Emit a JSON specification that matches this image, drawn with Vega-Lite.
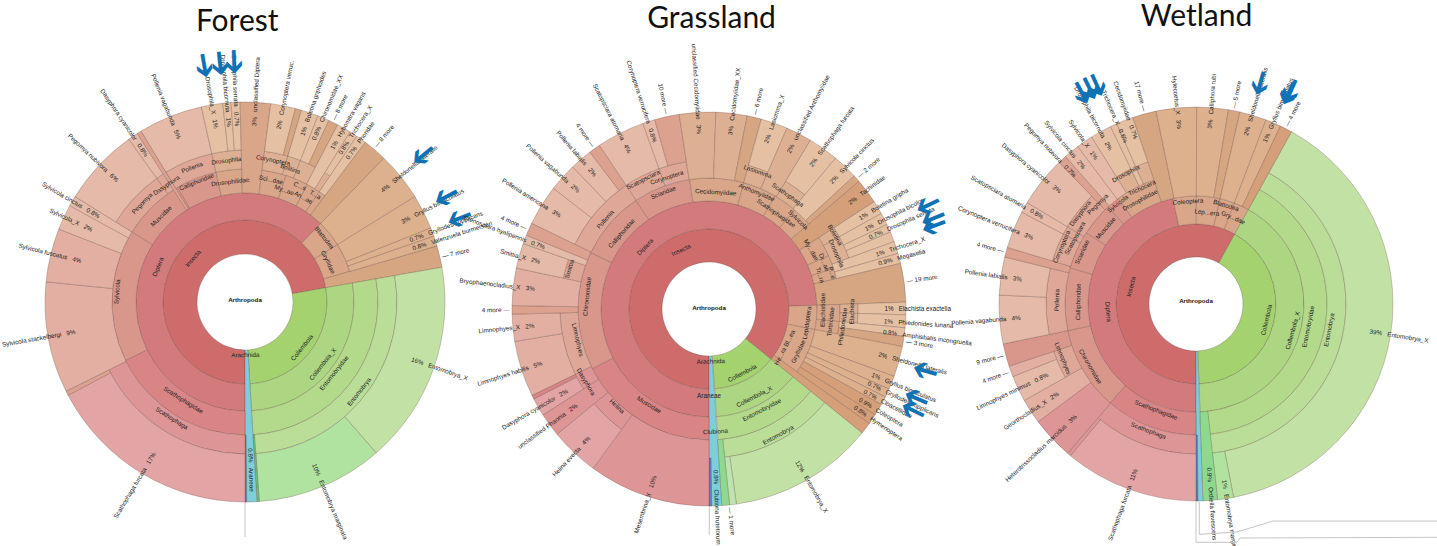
{"$schema":"https://vega.github.io/schema/vega-lite/v6.json","width":1437,"height":546,"padding":0,"autosize":{"type":"none"},"background":"white","config":{"view":{"stroke":null},"range":{"category":["#5B7FC4","#7CCFD9","#6CBF7A","#A3D26F","#ADD683","#B3DA8B","#BADD98","#C2E1A4","#B0E3A0","#8FD98F","#BFE3B0","#CE6C6C","#D27A7C","#D98485","#DE9596","#E2A4A5","#D9978C","#DEA797","#E3AFA3","#E5BAA8","#DDA190","#D9A68A","#DEB093","#E5C0A3","#DDB08E","#D6A682","#D59F7A"]}},
"resolve":{"scale":{"radius":"independent","x":"independent","y":"independent"}},
"datasets":{"all":[
{"site":1,"kind":"w","a0":180,"a1":440,"d0":0,"d1":1,"tone":"i1"},{"site":1,"kind":"w","a0":180,"a1":404,"d0":1,"d1":2,"tone":"i2"},{"site":1,"kind":"w","a0":44,"a1":58.2,"d0":1,"d1":2,"tone":"t1"},{"site":1,"kind":"w","a0":58.2,"a1":73.7,"d0":1,"d1":2,"tone":"t1"},{"site":1,"kind":"w","a0":73.7,"a1":80,"d0":1,"d1":5,"tone":"t5"},
{"site":1,"kind":"w","a0":80,"a1":176.6,"d0":0,"d1":1,"tone":"g1"},{"site":1,"kind":"w","a0":80,"a1":176.6,"d0":1,"d1":2,"tone":"g2"},{"site":1,"kind":"w","a0":80,"a1":176.6,"d0":2,"d1":3,"tone":"g3"},{"site":1,"kind":"w","a0":80,"a1":176.6,"d0":3,"d1":4,"tone":"g4"},{"site":1,"kind":"w","a0":80,"a1":139,"d0":4,"d1":5,"tone":"g5"},{"site":1,"kind":"w","a0":139,"a1":175.9,"d0":4,"d1":5,"tone":"g6"},{"site":1,"kind":"w","a0":175.9,"a1":176.6,"d0":3,"d1":5,"tone":"f1"},{"site":1,"kind":"w","a0":176.6,"a1":180,"d0":0,"d1":5,"tone":"c1"},{"site":1,"kind":"w","a0":179.5,"a1":180,"d0":3,"d1":5,"tone":"b1"},
{"site":1,"kind":"w","a0":180,"a1":244,"d0":2,"d1":3,"tone":"p1"},{"site":1,"kind":"w","a0":180,"a1":243.5,"d0":3,"d1":4,"tone":"p2"},{"site":1,"kind":"w","a0":180,"a1":242.2,"d0":4,"d1":5,"tone":"p3"},{"site":1,"kind":"w","a0":242.2,"a1":243.5,"d0":4,"d1":5,"tone":"s5"},
{"site":1,"kind":"w","a0":244,"a1":301.8,"d0":2,"d1":3,"tone":"s1"},{"site":1,"kind":"w","a0":243.5,"a1":275.8,"d0":3,"d1":5,"tone":"s3"},{"site":1,"kind":"w","a0":275.8,"a1":291.4,"d0":3,"d1":5,"tone":"s3"},{"site":1,"kind":"w","a0":291.4,"a1":298.8,"d0":3,"d1":5,"tone":"s4"},{"site":1,"kind":"w","a0":298.8,"a1":301.8,"d0":3,"d1":5,"tone":"s4"},
{"site":1,"kind":"w","a0":301.8,"a1":329.5,"d0":2,"d1":3,"tone":"s1"},{"site":1,"kind":"w","a0":301.8,"a1":324.5,"d0":3,"d1":4,"tone":"s2"},{"site":1,"kind":"w","a0":301.8,"a1":324.5,"d0":4,"d1":5,"tone":"s4"},{"site":1,"kind":"w","a0":324.5,"a1":328.5,"d0":3,"d1":4,"tone":"s2"},{"site":1,"kind":"w","a0":324.5,"a1":327.4,"d0":4,"d1":5,"tone":"s4"},{"site":1,"kind":"w","a0":327.4,"a1":328.7,"d0":2,"d1":5,"tone":"s5"},
{"site":1,"kind":"w","a0":329.5,"a1":347.4,"d0":2,"d1":3,"tone":"s1"},{"site":1,"kind":"w","a0":328.7,"a1":347.4,"d0":3,"d1":4,"tone":"s2"},{"site":1,"kind":"w","a0":328.7,"a1":347.4,"d0":4,"d1":5,"tone":"s4"},
{"site":1,"kind":"w","a0":347.4,"a1":358.6,"d0":2,"d1":3,"tone":"t1"},{"site":1,"kind":"w","a0":347.4,"a1":358.6,"d0":3,"d1":4,"tone":"t2"},{"site":1,"kind":"w","a0":347.4,"a1":353.6,"d0":4,"d1":5,"tone":"t3"},{"site":1,"kind":"w","a0":353.6,"a1":356,"d0":4,"d1":5,"tone":"t3"},{"site":1,"kind":"w","a0":356,"a1":358.6,"d0":4,"d1":5,"tone":"t3"},{"site":1,"kind":"w","a0":358.6,"a1":367.4,"d0":2,"d1":5,"tone":"t1"},
{"site":1,"kind":"w","a0":7.4,"a1":18,"d0":2,"d1":3,"tone":"t1"},{"site":1,"kind":"w","a0":7.4,"a1":16.4,"d0":3,"d1":4,"tone":"t2"},{"site":1,"kind":"w","a0":7.4,"a1":14.6,"d0":4,"d1":5,"tone":"t3"},{"site":1,"kind":"w","a0":14.6,"a1":16.4,"d0":4,"d1":5,"tone":"t5"},{"site":1,"kind":"w","a0":16.4,"a1":21.4,"d0":3,"d1":4,"tone":"t2"},{"site":1,"kind":"w","a0":16.4,"a1":21.4,"d0":4,"d1":5,"tone":"t3"},{"site":1,"kind":"w","a0":18,"a1":28,"d0":2,"d1":3,"tone":"t1"},{"site":1,"kind":"w","a0":28,"a1":34,"d0":2,"d1":3,"tone":"t1"},{"site":1,"kind":"w","a0":21.4,"a1":27.6,"d0":3,"d1":4,"tone":"t2"},{"site":1,"kind":"w","a0":21.4,"a1":24.8,"d0":4,"d1":5,"tone":"t3"},{"site":1,"kind":"w","a0":24.8,"a1":27.6,"d0":4,"d1":5,"tone":"t5"},{"site":1,"kind":"w","a0":27.6,"a1":31.7,"d0":3,"d1":5,"tone":"t3"},{"site":1,"kind":"w","a0":31.7,"a1":34,"d0":3,"d1":4,"tone":"t2"},{"site":1,"kind":"w","a0":31.7,"a1":34,"d0":4,"d1":5,"tone":"t3"},{"site":1,"kind":"w","a0":34,"a1":37,"d0":2,"d1":3,"tone":"t1"},{"site":1,"kind":"w","a0":34,"a1":37,"d0":3,"d1":5,"tone":"t3"},{"site":1,"kind":"w","a0":37,"a1":44,"d0":2,"d1":5,"tone":"t5"},
{"site":1,"kind":"w","a0":44,"a1":58.2,"d0":2,"d1":5,"tone":"t4"},{"site":1,"kind":"w","a0":58.2,"a1":68.3,"d0":2,"d1":5,"tone":"t4"},{"site":1,"kind":"w","a0":68.3,"a1":70.8,"d0":2,"d1":5,"tone":"t4"},{"site":1,"kind":"w","a0":70.8,"a1":73.7,"d0":2,"d1":5,"tone":"t4"},

{"site":2,"kind":"w","a0":180,"a1":489,"d0":0,"d1":1,"tone":"i1"},{"site":2,"kind":"w","a0":180,"a1":448,"d0":1,"d1":2,"tone":"i2"},{"site":2,"kind":"w","a0":88,"a1":101,"d0":1,"d1":2,"tone":"t1"},{"site":2,"kind":"w","a0":101,"a1":125.5,"d0":1,"d1":2,"tone":"t1"},{"site":2,"kind":"w","a0":125.5,"a1":129,"d0":1,"d1":5,"tone":"t6"},
{"site":2,"kind":"w","a0":129,"a1":176,"d0":0,"d1":1,"tone":"g1"},{"site":2,"kind":"w","a0":129,"a1":176,"d0":1,"d1":2,"tone":"g2"},{"site":2,"kind":"w","a0":129,"a1":176,"d0":2,"d1":3,"tone":"g3"},{"site":2,"kind":"w","a0":129,"a1":174,"d0":3,"d1":4,"tone":"g4"},{"site":2,"kind":"w","a0":129,"a1":172,"d0":4,"d1":5,"tone":"g5"},{"site":2,"kind":"w","a0":172,"a1":174,"d0":4,"d1":5,"tone":"g8"},{"site":2,"kind":"w","a0":174,"a1":176.3,"d0":3,"d1":5,"tone":"g7"},{"site":2,"kind":"w","a0":176.3,"a1":180,"d0":0,"d1":5,"tone":"c1"},{"site":2,"kind":"w","a0":179.2,"a1":180,"d0":4,"d1":5,"tone":"b1"},
{"site":2,"kind":"w","a0":180,"a1":243,"d0":2,"d1":3,"tone":"p1"},{"site":2,"kind":"w","a0":180,"a1":216,"d0":3,"d1":5,"tone":"p2"},{"site":2,"kind":"w","a0":216,"a1":230.5,"d0":3,"d1":4,"tone":"p2"},{"site":2,"kind":"w","a0":216,"a1":230.5,"d0":4,"d1":5,"tone":"p3"},{"site":2,"kind":"w","a0":230.5,"a1":237.5,"d0":3,"d1":5,"tone":"p2"},{"site":2,"kind":"w","a0":237.5,"a1":244,"d0":3,"d1":4,"tone":"p2"},{"site":2,"kind":"w","a0":237.5,"a1":242.8,"d0":4,"d1":5,"tone":"p3"},{"site":2,"kind":"w","a0":242.8,"a1":244,"d0":4,"d1":5,"tone":"p1"},
{"site":2,"kind":"w","a0":243,"a1":295.5,"d0":2,"d1":3,"tone":"s1"},{"site":2,"kind":"w","a0":244,"a1":268.5,"d0":3,"d1":4,"tone":"s2"},{"site":2,"kind":"w","a0":244,"a1":260.5,"d0":4,"d1":5,"tone":"s3"},{"site":2,"kind":"w","a0":260.5,"a1":268.5,"d0":4,"d1":5,"tone":"s3"},{"site":2,"kind":"w","a0":268.5,"a1":271,"d0":3,"d1":5,"tone":"s5"},{"site":2,"kind":"w","a0":271,"a1":282,"d0":3,"d1":5,"tone":"s3"},{"site":2,"kind":"w","a0":282,"a1":289.4,"d0":3,"d1":4,"tone":"s2"},{"site":2,"kind":"w","a0":282,"a1":289.4,"d0":4,"d1":5,"tone":"s4"},{"site":2,"kind":"w","a0":289.4,"a1":292,"d0":3,"d1":5,"tone":"s4"},{"site":2,"kind":"w","a0":292,"a1":295.8,"d0":3,"d1":5,"tone":"s5"},
{"site":2,"kind":"w","a0":295.5,"a1":326,"d0":2,"d1":3,"tone":"s1"},{"site":2,"kind":"w","a0":295.8,"a1":326.2,"d0":3,"d1":4,"tone":"s2"},{"site":2,"kind":"w","a0":295.8,"a1":307.8,"d0":4,"d1":5,"tone":"s4"},{"site":2,"kind":"w","a0":307.8,"a1":316.2,"d0":4,"d1":5,"tone":"s4"},{"site":2,"kind":"w","a0":316.2,"a1":322.8,"d0":4,"d1":5,"tone":"s4"},{"site":2,"kind":"w","a0":322.8,"a1":326.2,"d0":4,"d1":5,"tone":"s5"},
{"site":2,"kind":"w","a0":326,"a1":351.5,"d0":2,"d1":3,"tone":"s1"},{"site":2,"kind":"w","a0":326.2,"a1":340.4,"d0":3,"d1":4,"tone":"s2"},{"site":2,"kind":"w","a0":326.2,"a1":340.4,"d0":4,"d1":5,"tone":"s4"},{"site":2,"kind":"w","a0":340.4,"a1":351.3,"d0":3,"d1":4,"tone":"s2"},{"site":2,"kind":"w","a0":340.4,"a1":344,"d0":4,"d1":5,"tone":"s4"},{"site":2,"kind":"w","a0":344,"a1":351.3,"d0":4,"d1":5,"tone":"s5"},
{"site":2,"kind":"w","a0":351.5,"a1":375.5,"d0":2,"d1":3,"tone":"t1"},{"site":2,"kind":"w","a0":351.3,"a1":362,"d0":3,"d1":5,"tone":"t2"},{"site":2,"kind":"w","a0":2,"a1":11.2,"d0":3,"d1":5,"tone":"t2"},{"site":2,"kind":"w","a0":11.2,"a1":15.4,"d0":3,"d1":5,"tone":"t5"},
{"site":2,"kind":"w","a0":15.5,"a1":30.4,"d0":2,"d1":3,"tone":"t1"},{"site":2,"kind":"w","a0":15.4,"a1":23.3,"d0":3,"d1":4,"tone":"t2"},{"site":2,"kind":"w","a0":15.4,"a1":23.3,"d0":4,"d1":5,"tone":"t3"},{"site":2,"kind":"w","a0":23.3,"a1":31,"d0":3,"d1":5,"tone":"t2"},{"site":2,"kind":"w","a0":30.4,"a1":41,"d0":2,"d1":3,"tone":"t1"},{"site":2,"kind":"w","a0":31,"a1":40,"d0":3,"d1":4,"tone":"t2"},{"site":2,"kind":"w","a0":31,"a1":40,"d0":4,"d1":5,"tone":"t3"},{"site":2,"kind":"w","a0":41,"a1":49.6,"d0":2,"d1":3,"tone":"t1"},{"site":2,"kind":"w","a0":40,"a1":47.5,"d0":3,"d1":5,"tone":"t3"},{"site":2,"kind":"w","a0":47.5,"a1":49.6,"d0":3,"d1":5,"tone":"t5"},{"site":2,"kind":"w","a0":49.6,"a1":57,"d0":2,"d1":5,"tone":"t6"},
{"site":2,"kind":"w","a0":57,"a1":66,"d0":2,"d1":3,"tone":"t1"},{"site":2,"kind":"w","a0":66,"a1":72,"d0":2,"d1":3,"tone":"t1"},{"site":2,"kind":"w","a0":72,"a1":76.6,"d0":2,"d1":3,"tone":"t1"},{"site":2,"kind":"w","a0":57,"a1":61,"d0":3,"d1":4,"tone":"t2"},{"site":2,"kind":"w","a0":57,"a1":61,"d0":4,"d1":5,"tone":"t3"},{"site":2,"kind":"w","a0":61,"a1":70,"d0":3,"d1":4,"tone":"t2"},{"site":2,"kind":"w","a0":61,"a1":64.6,"d0":4,"d1":5,"tone":"t3"},{"site":2,"kind":"w","a0":64.6,"a1":67,"d0":4,"d1":5,"tone":"t3"},{"site":2,"kind":"w","a0":67,"a1":70,"d0":4,"d1":5,"tone":"t3"},{"site":2,"kind":"w","a0":70,"a1":73.6,"d0":3,"d1":5,"tone":"t3"},{"site":2,"kind":"w","a0":73.6,"a1":76.6,"d0":3,"d1":5,"tone":"t3"},{"site":2,"kind":"w","a0":76.6,"a1":88,"d0":2,"d1":5,"tone":"t5"},
{"site":2,"kind":"w","a0":88,"a1":95.5,"d0":2,"d1":3,"tone":"t1"},{"site":2,"kind":"w","a0":95.5,"a1":101,"d0":2,"d1":3,"tone":"t1"},{"site":2,"kind":"w","a0":88,"a1":91.7,"d0":3,"d1":4,"tone":"t2"},{"site":2,"kind":"w","a0":88,"a1":91.7,"d0":4,"d1":5,"tone":"t3"},{"site":2,"kind":"w","a0":91.7,"a1":95.5,"d0":3,"d1":4,"tone":"t2"},{"site":2,"kind":"w","a0":91.7,"a1":95.5,"d0":4,"d1":5,"tone":"t3"},{"site":2,"kind":"w","a0":95.5,"a1":98,"d0":3,"d1":5,"tone":"t3"},{"site":2,"kind":"w","a0":98,"a1":101,"d0":3,"d1":5,"tone":"t5"},
{"site":2,"kind":"w","a0":101,"a1":110,"d0":2,"d1":5,"tone":"t4"},{"site":2,"kind":"w","a0":110,"a1":114,"d0":2,"d1":5,"tone":"t4"},{"site":2,"kind":"w","a0":114,"a1":116.5,"d0":2,"d1":5,"tone":"t4"},{"site":2,"kind":"w","a0":116.5,"a1":119,"d0":2,"d1":5,"tone":"t4"},{"site":2,"kind":"w","a0":119,"a1":122.5,"d0":2,"d1":5,"tone":"t6"},{"site":2,"kind":"w","a0":122.5,"a1":125.5,"d0":2,"d1":5,"tone":"t6"},

{"site":3,"kind":"w","a0":180,"a1":389,"d0":0,"d1":1,"tone":"i1"},{"site":3,"kind":"w","a0":180,"a1":347.6,"d0":1,"d1":2,"tone":"i2"},{"site":3,"kind":"w","a0":347.6,"a1":360.2,"d0":1,"d1":2,"tone":"t1"},{"site":3,"kind":"w","a0":0.2,"a1":12.9,"d0":1,"d1":2,"tone":"t1"},{"site":3,"kind":"w","a0":12.9,"a1":20.8,"d0":1,"d1":2,"tone":"t1"},{"site":3,"kind":"w","a0":20.8,"a1":29,"d0":1,"d1":2,"tone":"t1"},
{"site":3,"kind":"w","a0":29,"a1":177.8,"d0":0,"d1":1,"tone":"g1"},{"site":3,"kind":"w","a0":29,"a1":177.8,"d0":1,"d1":2,"tone":"g2"},{"site":3,"kind":"w","a0":29,"a1":174,"d0":2,"d1":3,"tone":"g3"},{"site":3,"kind":"w","a0":29,"a1":174,"d0":3,"d1":4,"tone":"g4"},{"site":3,"kind":"w","a0":29,"a1":169,"d0":4,"d1":5,"tone":"g5"},{"site":3,"kind":"w","a0":169,"a1":173.7,"d0":4,"d1":5,"tone":"g6"},{"site":3,"kind":"w","a0":173.7,"a1":178,"d0":2,"d1":5,"tone":"g7"},{"site":3,"kind":"w","a0":178,"a1":180,"d0":0,"d1":5,"tone":"c1"},{"site":3,"kind":"w","a0":179.4,"a1":180,"d0":3,"d1":5,"tone":"b1"},
{"site":3,"kind":"w","a0":180,"a1":221,"d0":2,"d1":3,"tone":"p1"},{"site":3,"kind":"w","a0":180,"a1":220.7,"d0":3,"d1":4,"tone":"p2"},{"site":3,"kind":"w","a0":180,"a1":219.6,"d0":4,"d1":5,"tone":"p3"},{"site":3,"kind":"w","a0":219.6,"a1":220.7,"d0":4,"d1":5,"tone":"p2"},{"site":3,"kind":"w","a0":220.7,"a1":233.3,"d0":3,"d1":5,"tone":"p2"},{"site":3,"kind":"w","a0":221,"a1":258.3,"d0":2,"d1":3,"tone":"s1"},{"site":3,"kind":"w","a0":233.3,"a1":240.7,"d0":3,"d1":5,"tone":"s3"},{"site":3,"kind":"w","a0":240.7,"a1":251.6,"d0":3,"d1":4,"tone":"s2"},{"site":3,"kind":"w","a0":240.7,"a1":248.4,"d0":4,"d1":5,"tone":"s4"},{"site":3,"kind":"w","a0":248.4,"a1":251.6,"d0":4,"d1":5,"tone":"s3"},{"site":3,"kind":"w","a0":251.6,"a1":258.3,"d0":3,"d1":5,"tone":"s1"},
{"site":3,"kind":"w","a0":258.3,"a1":286,"d0":2,"d1":3,"tone":"s1"},{"site":3,"kind":"w","a0":258.3,"a1":283.8,"d0":3,"d1":4,"tone":"s2"},{"site":3,"kind":"w","a0":258.3,"a1":272.6,"d0":4,"d1":5,"tone":"s4"},{"site":3,"kind":"w","a0":272.6,"a1":283.8,"d0":4,"d1":5,"tone":"s4"},{"site":3,"kind":"w","a0":283.8,"a1":286.7,"d0":3,"d1":5,"tone":"s5"},{"site":3,"kind":"w","a0":286,"a1":303,"d0":2,"d1":3,"tone":"s1"},{"site":3,"kind":"w","a0":286.7,"a1":297.8,"d0":3,"d1":4,"tone":"s2"},{"site":3,"kind":"w","a0":286.7,"a1":297.8,"d0":4,"d1":5,"tone":"s4"},{"site":3,"kind":"w","a0":297.8,"a1":301,"d0":3,"d1":4,"tone":"s2"},{"site":3,"kind":"w","a0":297.8,"a1":301,"d0":4,"d1":5,"tone":"s4"},
{"site":3,"kind":"w","a0":303,"a1":317.8,"d0":2,"d1":3,"tone":"s1"},{"site":3,"kind":"w","a0":301,"a1":316,"d0":3,"d1":4,"tone":"s2"},{"site":3,"kind":"w","a0":301,"a1":316,"d0":4,"d1":5,"tone":"s4"},{"site":3,"kind":"w","a0":316,"a1":318.5,"d0":3,"d1":5,"tone":"s5"},{"site":3,"kind":"w","a0":317.8,"a1":323.6,"d0":2,"d1":3,"tone":"s1"},{"site":3,"kind":"w","a0":318.5,"a1":323.1,"d0":3,"d1":5,"tone":"s4"},{"site":3,"kind":"w","a0":323.1,"a1":328,"d0":3,"d1":5,"tone":"s4"},{"site":3,"kind":"w","a0":323.6,"a1":341.3,"d0":2,"d1":3,"tone":"t1"},{"site":3,"kind":"w","a0":328,"a1":334.3,"d0":3,"d1":4,"tone":"t2"},{"site":3,"kind":"w","a0":328,"a1":334.3,"d0":4,"d1":5,"tone":"t3"},{"site":3,"kind":"w","a0":334.3,"a1":336.3,"d0":3,"d1":5,"tone":"t3"},{"site":3,"kind":"w","a0":336.3,"a1":341.3,"d0":3,"d1":4,"tone":"t2"},{"site":3,"kind":"w","a0":336.3,"a1":341.3,"d0":4,"d1":5,"tone":"t3"},
{"site":3,"kind":"w","a0":341.3,"a1":348.3,"d0":2,"d1":5,"tone":"t5"},{"site":3,"kind":"w","a0":348.3,"a1":360.2,"d0":2,"d1":5,"tone":"t4"},{"site":3,"kind":"w","a0":0.2,"a1":9.5,"d0":2,"d1":5,"tone":"t4"},{"site":3,"kind":"w","a0":9.5,"a1":12.9,"d0":2,"d1":5,"tone":"t5"},{"site":3,"kind":"w","a0":12.9,"a1":20.8,"d0":2,"d1":5,"tone":"t4"},{"site":3,"kind":"w","a0":20.8,"a1":25.4,"d0":2,"d1":5,"tone":"t4"},{"site":3,"kind":"w","a0":25.4,"a1":29,"d0":2,"d1":5,"tone":"t6"},

{"site":1,"kind":"h","a0":358.4,"d0":6.6,"name":"Forest"},{"site":2,"kind":"h","a0":0.5,"d0":6.86,"name":"Grassland"},{"site":3,"kind":"h","a0":0.1,"d0":6.8,"name":"Wetland"},
{"site":1,"kind":"c","a0":0,"d0":-0.96,"name":"Arthropoda"},{"site":2,"kind":"c","a0":0,"d0":-0.98,"name":"Arthropoda"},{"site":3,"kind":"c","a0":0,"d0":-0.94,"name":"Arthropoda"},

{"site":1,"kind":"a","a0":350.2,"d0":5.8},{"site":1,"kind":"a","a0":354,"d0":5.8},{"site":1,"kind":"a","a0":357.4,"d0":5.81},{"site":1,"kind":"a","a0":50.5,"d0":5.62},{"site":1,"kind":"a","a0":62.4,"d0":5.55},{"site":1,"kind":"a","a0":68.7,"d0":5.61},
{"site":2,"kind":"a","a0":64.6,"d0":5.91},{"site":2,"kind":"a","a0":68,"d0":5.9},{"site":2,"kind":"a","a0":69.7,"d0":5.86},{"site":2,"kind":"a","a0":106,"d0":5.56},{"site":2,"kind":"a","a0":113.3,"d0":5.58},{"site":2,"kind":"a","a0":116.4,"d0":5.62},
{"site":3,"kind":"a","a0":331.6,"d0":5.87},{"site":3,"kind":"a","a0":333.7,"d0":5.87},{"site":3,"kind":"a","a0":335.6,"d0":5.87},{"site":3,"kind":"a","a0":16.2,"d0":5.66},{"site":3,"kind":"a","a0":23.7,"d0":5.66},{"site":3,"kind":"a","a0":24,"d0":5.73},

{"site":1,"kind":"r","a0":211,"d0":4.5,"name":"Scathophaga furcata\u00a0\u00a0\u00a017%"},{"site":1,"kind":"r","a0":260,"d0":4.42,"name":"Sylvicola stackelbergi\u00a0\u00a0\u00a09%"},{"site":1,"kind":"r","a0":284,"d0":4.35,"name":"Sylvicola fuscatus\u00a0\u00a0\u00a04%"},{"site":1,"kind":"r","a0":295.2,"d0":4.35,"name":"Sylvicola_X\u00a0\u00a0\u00a02%"},{"site":1,"kind":"r","a0":300.3,"d0":4.35,"name":"Sylvicola cinctus\u00a0\u00a0\u00a00.8%"},{"site":1,"kind":"r","a0":313.5,"d0":4.5,"name":"Pegomya nubivora\u00a0\u00a0\u00a06%"},{"site":1,"kind":"r","a0":326,"d0":4.5,"name":"Dasyphora cyanicolor\u00a0\u00a0\u00a00.8%"},{"site":1,"kind":"r","a0":338,"d0":4.5,"name":"Pollenia vagabunda\u00a0\u00a0\u00a05%"},{"site":1,"kind":"r","a0":350.5,"d0":4.5,"name":"Drosophila_X\u00a0\u00a0\u00a01%"},{"site":1,"kind":"r","a0":354.8,"d0":4.5,"name":"Drosophila bicornuta\u00a0\u00a0\u00a01%"},{"site":1,"kind":"r","a0":357.4,"d0":4.5,"name":"Drosophila serrata\u00a0\u00a0\u00a00.7%"},
{"site":1,"kind":"r","a0":3,"d0":4.5,"name":"3%\u00a0\u00a0\u00a0unclassified Diptera"},{"site":1,"kind":"r","a0":11,"d0":4.5,"name":"2%\u00a0\u00a0\u00a0Corynoptera verruc."},{"site":1,"kind":"r","a0":19,"d0":4.5,"name":"1%\u00a0\u00a0\u00a0Boletina griphoides"},{"site":1,"kind":"r","a0":23,"d0":4.5,"name":"0.8%\u00a0\u00a0\u00a0Chironomidae_XX"},{"site":1,"kind":"r","a0":29.6,"d0":4.5,"name":"1%\u00a0\u00a0\u00a0Hybomitra vagans"},{"site":1,"kind":"r","a0":32.7,"d0":4.5,"name":"0.8%\u00a0\u00a0\u00a0Trichocera_X"},{"site":1,"kind":"r","a0":35.5,"d0":4.5,"name":"0.7%\u00a0\u00a0\u00a0Phoridae"},{"site":1,"kind":"r","a0":51,"d0":4.5,"name":"4%\u00a0\u00a0\u00a0Sheldonella lateralis"},{"site":1,"kind":"r","a0":63,"d0":4.5,"name":"3%\u00a0\u00a0\u00a0Gryllus bimaculatus"},{"site":1,"kind":"r","a0":69.5,"d0":4.5,"name":"0.7%\u00a0\u00a0\u00a0Gryllodes supplicans"},{"site":1,"kind":"r","a0":72.3,"d0":4.5,"name":"0.8%\u00a0\u00a0\u00a0Valenzuela burmeisteri"},{"site":1,"kind":"r","a0":109,"d0":4.5,"name":"16%\u00a0\u00a0\u00a0Entomobrya_X"},{"site":1,"kind":"r","a0":157,"d0":4.5,"name":"10%\u00a0\u00a0\u00a0Entomobrya marginata"},{"site":1,"kind":"r","a0":178,"d0":3.7,"name":"0.8%\u00a0\u00a0\u00a0Araneae"},{"site":1,"kind":"r","a0":26,"d0":5.05,"name":"— 8 more"},{"site":1,"kind":"r","a0":40,"d0":5.05,"name":"— 8 more"},{"site":1,"kind":"r","a0":77,"d0":5.05,"name":"— 7 more"},

{"site":2,"kind":"r","a0":198,"d0":4.55,"name":"Mesembrina_X\u00a0\u00a0\u00a010%"},{"site":2,"kind":"r","a0":223,"d0":4.55,"name":"Helina evecta\u00a0\u00a0\u00a04%"},{"site":2,"kind":"r","a0":234,"d0":4.3,"name":"unclassified Phaonia\u00a0\u00a0\u00a02%"},{"site":2,"kind":"r","a0":240,"d0":4.3,"name":"Dasyphora cyanicolor\u00a0\u00a0\u00a02%"},{"site":2,"kind":"r","a0":252,"d0":4.55,"name":"Limnophyes habilis\u00a0\u00a0\u00a05%"},{"site":2,"kind":"r","a0":264.5,"d0":4.55,"name":"Limnophyes_X\u00a0\u00a0\u00a02%"},{"site":2,"kind":"r","a0":276.5,"d0":4.55,"name":"Bryophaenocladius_X\u00a0\u00a0\u00a03%"},{"site":2,"kind":"r","a0":285.5,"d0":4.55,"name":"Smittia_X\u00a0\u00a0\u00a02%"},{"site":2,"kind":"r","a0":290.5,"d0":4.55,"name":"Ctenosciara hyalipennis\u00a0\u00a0\u00a00.7%"},{"site":2,"kind":"r","a0":302,"d0":4.55,"name":"Pollenia americana\u00a0\u00a0\u00a03%"},{"site":2,"kind":"r","a0":312,"d0":4.55,"name":"Pollenia vagabunda\u00a0\u00a0\u00a02%"},{"site":2,"kind":"r","a0":319.5,"d0":4.55,"name":"Pollenia labialis\u00a0\u00a0\u00a02%"},{"site":2,"kind":"r","a0":333,"d0":4.55,"name":"Scatopsciara atomaria\u00a0\u00a0\u00a04%"},{"site":2,"kind":"r","a0":342,"d0":4.55,"name":"Corynoptera verrucifera\u00a0\u00a0\u00a00.8%"},{"site":2,"kind":"r","a0":356.7,"d0":4.55,"name":"unclassified Cecidomyiidae\u00a0\u00a0\u00a03%"},
{"site":2,"kind":"r","a0":7,"d0":4.55,"name":"3%\u00a0\u00a0\u00a0Cecidomyiidae_XX"},{"site":2,"kind":"r","a0":19,"d0":4.55,"name":"2%\u00a0\u00a0\u00a0Lasiomma_X"},{"site":2,"kind":"r","a0":27,"d0":4.55,"name":"2%\u00a0\u00a0\u00a0unclassified Anthomyiidae"},{"site":2,"kind":"r","a0":35.5,"d0":4.55,"name":"2%\u00a0\u00a0\u00a0Scathophaga furcata"},{"site":2,"kind":"r","a0":44,"d0":4.55,"name":"2%\u00a0\u00a0\u00a0Sylvicola cinctus"},{"site":2,"kind":"r","a0":53,"d0":4.55,"name":"2%\u00a0\u00a0\u00a0Tachinidae"},{"site":2,"kind":"r","a0":59,"d0":4.55,"name":"1%\u00a0\u00a0\u00a0Boletina gripha"},{"site":2,"kind":"r","a0":63,"d0":4.55,"name":"1%\u00a0\u00a0\u00a0Drosophila bicolor"},{"site":2,"kind":"r","a0":66,"d0":4.55,"name":"0.7%\u00a0\u00a0\u00a0Drosophila serrata"},{"site":2,"kind":"r","a0":72,"d0":4.55,"name":"1%\u00a0\u00a0\u00a0Trichocera_X"},{"site":2,"kind":"r","a0":75,"d0":4.55,"name":"0.9%\u00a0\u00a0\u00a0Megaselia"},{"site":2,"kind":"r","a0":90,"d0":4.55,"name":"1%\u00a0\u00a0\u00a0Elachista exactella"},{"site":2,"kind":"r","a0":94,"d0":4.55,"name":"1%\u00a0\u00a0\u00a0Phiedonides lunana"},{"site":2,"kind":"r","a0":97.5,"d0":4.55,"name":"0.8%\u00a0\u00a0\u00a0Amphisbatis incongruella"},{"site":2,"kind":"r","a0":105,"d0":4.55,"name":"2%\u00a0\u00a0\u00a0Sheldonella lateralis"},{"site":2,"kind":"r","a0":112,"d0":4.55,"name":"1%\u00a0\u00a0\u00a0Gryllus bimaculatus"},{"site":2,"kind":"r","a0":115,"d0":4.55,"name":"0.7%\u00a0\u00a0\u00a0Gryllodes supplicans"},{"site":2,"kind":"r","a0":118,"d0":4.55,"name":"0.7%\u00a0\u00a0\u00a0Cloacellidae"},{"site":2,"kind":"r","a0":121,"d0":4.55,"name":"0.9%\u00a0\u00a0\u00a0Coleoptera"},{"site":2,"kind":"r","a0":124,"d0":4.55,"name":"0.8%\u00a0\u00a0\u00a0Hymenoptera"},{"site":2,"kind":"r","a0":150,"d0":4.55,"name":"12%\u00a0\u00a0\u00a0Entomobrya_X"},{"site":2,"kind":"r","a0":177.7,"d0":4.25,"name":"0.8%\u00a0\u00a0\u00a0Clubiona frutetorum"},
{"site":2,"kind":"r","a0":82,"d0":5.05,"name":"— 19 more"},{"site":2,"kind":"r","a0":99.4,"d0":5.05,"name":"— 3 more"},{"site":2,"kind":"r","a0":48.5,"d0":5.05,"name":"— 2 more"},{"site":2,"kind":"r","a0":13.3,"d0":5.05,"name":"— 6 more"},{"site":2,"kind":"r","a0":174,"d0":5.05,"name":"— 1 more"},{"site":2,"kind":"r","a0":347.7,"d0":5.05,"name":"10 more —"},{"site":2,"kind":"r","a0":324.5,"d0":5.05,"name":"4 more —"},{"site":2,"kind":"r","a0":293.8,"d0":5.05,"name":"4 more —"},{"site":2,"kind":"r","a0":269.7,"d0":5.05,"name":"4 more —"},

{"site":3,"kind":"r","a0":200,"d0":4.55,"name":"Scathophaga furcata\u00a0\u00a0\u00a011%"},{"site":3,"kind":"r","a0":227,"d0":4.3,"name":"Heterotrissocladius marcidus\u00a0\u00a0\u00a03%"},{"site":3,"kind":"r","a0":237,"d0":4.3,"name":"Georthocladius_X\u00a0\u00a0\u00a02%"},{"site":3,"kind":"r","a0":244.5,"d0":4.3,"name":"Limnophyes minimus\u00a0\u00a0\u00a00.8%"},{"site":3,"kind":"r","a0":265.5,"d0":4.55,"name":"Pollenia vagabunda\u00a0\u00a0\u00a04%"},{"site":3,"kind":"r","a0":278,"d0":4.55,"name":"Pollenia labialis\u00a0\u00a0\u00a03%"},{"site":3,"kind":"r","a0":292,"d0":4.55,"name":"Corynoptera verrucifera\u00a0\u00a0\u00a03%"},{"site":3,"kind":"r","a0":299.5,"d0":4.55,"name":"Scatopsciara atomaria\u00a0\u00a0\u00a00.8%"},{"site":3,"kind":"r","a0":309.5,"d0":4.55,"name":"Dasyphora cyanicolor\u00a0\u00a0\u00a03%"},{"site":3,"kind":"r","a0":316.5,"d0":4.55,"name":"Pegomya nubivora\u00a0\u00a0\u00a00.7%"},{"site":3,"kind":"r","a0":320.5,"d0":4.55,"name":"Sylvicola cinctus\u00a0\u00a0\u00a02%"},{"site":3,"kind":"r","a0":325.5,"d0":4.55,"name":"Sylvicola_X\u00a0\u00a0\u00a01%"},{"site":3,"kind":"r","a0":331,"d0":4.55,"name":"Drosophila bicornuta\u00a0\u00a0\u00a02%"},{"site":3,"kind":"r","a0":336.5,"d0":4.55,"name":"Trichocera_X\u00a0\u00a0\u00a00.6%"},{"site":3,"kind":"r","a0":340,"d0":4.55,"name":"Cecidomyiidae\u00a0\u00a0\u00a00.7%"},{"site":3,"kind":"r","a0":354.5,"d0":4.55,"name":"Hylecoetus_X\u00a0\u00a0\u00a03%"},
{"site":3,"kind":"r","a0":4.5,"d0":4.55,"name":"3%\u00a0\u00a0\u00a0Calliphora rubi"},{"site":3,"kind":"r","a0":16.5,"d0":4.55,"name":"2%\u00a0\u00a0\u00a0Sheldonella lateralis"},{"site":3,"kind":"r","a0":23,"d0":4.55,"name":"1%\u00a0\u00a0\u00a0Gryllus bimaculatus"},{"site":3,"kind":"r","a0":99,"d0":4.55,"name":"39%\u00a0\u00a0\u00a0Entomobrya_X"},{"site":3,"kind":"r","a0":171,"d0":4.6,"name":"1%\u00a0\u00a0\u00a0Entomobrya marginata"},{"site":3,"kind":"r","a0":175.5,"d0":4.3,"name":"0.9%\u00a0\u00a0\u00a0Ordiella flavescens"},
{"site":3,"kind":"r","a0":11,"d0":5.05,"name":"— 5 more"},{"site":3,"kind":"r","a0":27,"d0":5.05,"name":"— 4 more"},{"site":3,"kind":"r","a0":285.3,"d0":5.05,"name":"4 more —"},{"site":3,"kind":"r","a0":255,"d0":5.05,"name":"9 more —"},{"site":3,"kind":"r","a0":250,"d0":5.05,"name":"4 more —"},{"site":3,"kind":"r","a0":345,"d0":5.05,"name":"17 more —"},

{"site":1,"kind":"t","a0":310,"d0":0.58,"name":"Insecta"},{"site":1,"kind":"t","a0":292,"d0":1.43,"name":"Diptera"},{"site":1,"kind":"t","a0":315.7,"d0":2.45,"name":"Muscidae"},{"site":1,"kind":"t","a0":313.8,"d0":3.5,"name":"Pegomya"},{"site":1,"kind":"t","a0":326,"d0":3.4,"name":"Dasyphora"},{"site":1,"kind":"t","a0":338.5,"d0":3.6,"name":"Pollenia"},{"site":1,"kind":"t","a0":338,"d0":2.85,"name":"Calliphoridae"},{"site":1,"kind":"t","a0":352.5,"d0":3.5,"name":"Drosophila"},{"site":1,"kind":"t","a0":353,"d0":2.5,"name":"Drosophilidae"},{"site":1,"kind":"t","a0":274.6,"d0":2.8,"name":"Sylvicola"},{"site":1,"kind":"t","a0":11.2,"d0":3.6,"name":"Corynoptera"},{"site":1,"kind":"t","a0":18.8,"d0":3.4,"name":"Bolitina"},{"site":1,"kind":"t","a0":12,"d0":2.66,"name":"Sci...dae"},{"site":1,"kind":"t","a0":19.3,"d0":2.4,"name":"My...ae"},{"site":1,"kind":"t","a0":29.2,"d0":2.44,"name":"An...ae"},{"site":1,"kind":"t","a0":25.3,"d0":2.8,"name":"C...s"},{"site":1,"kind":"t","a0":33.2,"d0":2.8,"name":"T...a"},{"site":1,"kind":"t","a0":51,"d0":1.74,"name":"Blattodea"},{"site":1,"kind":"t","a0":64.4,"d0":1.37,"name":"Gryllidae"},{"site":1,"kind":"t","a0":128.7,"d0":0.74,"name":"Collembola"},{"site":1,"kind":"t","a0":128.6,"d0":1.65,"name":"Collembola_X"},{"site":1,"kind":"t","a0":128.6,"d0":2.21,"name":"Entomobryidae"},{"site":1,"kind":"t","a0":128.2,"d0":3.65,"name":"Entomobrya"},{"site":1,"kind":"t","a0":212.2,"d0":2.29,"name":"Scathophagidae"},{"site":1,"kind":"t","a0":212.2,"d0":3.24,"name":"Scathophaga"},{"site":1,"kind":"t","a0":179.6,"d0":0.15,"name":"Arachnida"},

{"site":2,"kind":"t","a0":334.7,"d0":0.55,"name":"Insecta"},{"site":2,"kind":"t","a0":314.2,"d0":1.32,"name":"Diptera"},{"site":2,"kind":"t","a0":310.9,"d0":2.33,"name":"Calliphoridae"},{"site":2,"kind":"t","a0":310.8,"d0":3.33,"name":"Pollenia"},{"site":2,"kind":"t","a0":333,"d0":3.78,"name":"Scatopsciara"},{"site":2,"kind":"t","a0":342.2,"d0":3.39,"name":"Corynoptera"},{"site":2,"kind":"t","a0":338.6,"d0":2.74,"name":"Sciaridae"},{"site":2,"kind":"t","a0":3.3,"d0":2.39,"name":"Cecidomyiidae"},{"site":2,"kind":"t","a0":19.5,"d0":3.82,"name":"Lasiomma"},{"site":2,"kind":"t","a0":22.2,"d0":2.78,"name":"Anthomyiidae"},{"site":2,"kind":"t","a0":34.6,"d0":3.42,"name":"Scathophaga"},{"site":2,"kind":"t","a0":35,"d0":2.39,"name":"Scathophagidae"},{"site":2,"kind":"t","a0":45,"d0":2.78,"name":"Sylvicola"},{"site":2,"kind":"t","a0":60,"d0":2.43,"name":"My...dae"},{"site":2,"kind":"t","a0":59.6,"d0":3.83,"name":"Boletina"},{"site":2,"kind":"t","a0":66.4,"d0":3.44,"name":"Drosophila"},{"site":2,"kind":"t","a0":67.9,"d0":2.7,"name":"Dr...ae"},{"site":2,"kind":"t","a0":73,"d0":2.35,"name":"Tr...ra"},{"site":2,"kind":"t","a0":73.6,"d0":2.87,"name":"P...e"},{"site":2,"kind":"t","a0":275.8,"d0":2.63,"name":"Chironomidae"},{"site":2,"kind":"t","a0":286,"d0":3.78,"name":"Smittia"},{"site":2,"kind":"t","a0":256.8,"d0":3.22,"name":"Limnophyes"},{"site":2,"kind":"t","a0":239.4,"d0":3.67,"name":"Dasyphora"},{"site":2,"kind":"t","a0":212,"d0":2.22,"name":"Muscidae"},{"site":2,"kind":"t","a0":223.4,"d0":3.17,"name":"Helina"},{"site":2,"kind":"t","a0":178,"d0":0.17,"name":"Arachnida"},{"site":2,"kind":"t","a0":180,"d0":1.25,"name":"Araneae"},{"site":2,"kind":"t","a0":177,"d0":2.64,"name":"Clubiona"},{"site":2,"kind":"t","a0":152.6,"d0":0.77,"name":"Collembola"},{"site":2,"kind":"t","a0":152.7,"d0":1.67,"name":"Collembola_X"},{"site":2,"kind":"t","a0":152.4,"d0":2.26,"name":"Entomobryidae"},{"site":2,"kind":"t","a0":151.2,"d0":3.71,"name":"Entomobrya"},{"site":2,"kind":"t","a0":98,"d0":1.68,"name":"Lepidoptera"},{"site":2,"kind":"t","a0":117,"d0":1.18,"name":"He...ra Bl...ea"},{"site":2,"kind":"t","a0":115.6,"d0":1.68,"name":"Gryllidae"},{"site":2,"kind":"t","a0":90.5,"d0":2.26,"name":"Elachistidae"},{"site":2,"kind":"t","a0":96,"d0":2.63,"name":"Tortricidae"},{"site":2,"kind":"t","a0":97.5,"d0":3.22,"name":"Philedoniidae"},{"site":2,"kind":"t","a0":91,"d0":3.67,"name":"Elachista"},

{"site":3,"kind":"t","a0":285,"d0":0.61,"name":"Insecta"},{"site":3,"kind":"t","a0":265,"d0":1.29,"name":"Diptera"},{"site":3,"kind":"t","a0":271,"d0":2.42,"name":"Calliphoridae"},{"site":3,"kind":"t","a0":271.6,"d0":3.42,"name":"Pollenia"},{"site":3,"kind":"t","a0":294.5,"d0":2.74,"name":"Sciaridae"},{"site":3,"kind":"t","a0":293.1,"d0":3.79,"name":"Corynoptera"},{"site":3,"kind":"t","a0":298.5,"d0":3.35,"name":"Scatopsciara"},{"site":3,"kind":"t","a0":308,"d0":3.84,"name":"Dasyphora"},{"site":3,"kind":"t","a0":315.5,"d0":3.47,"name":"Pegomya"},{"site":3,"kind":"t","a0":310,"d0":2.43,"name":"Muscidae"},{"site":3,"kind":"t","a0":322,"d0":2.83,"name":"Sylvicola"},{"site":3,"kind":"t","a0":335,"d0":2.87,"name":"Trichocera"},{"site":3,"kind":"t","a0":331.7,"d0":3.89,"name":"Drosophila"},{"site":3,"kind":"t","a0":331.7,"d0":2.43,"name":"Drosophilidae"},{"site":3,"kind":"t","a0":355.5,"d0":1.81,"name":"Coleoptera"},{"site":3,"kind":"t","a0":6.7,"d0":1.43,"name":"Lep...era"},{"site":3,"kind":"t","a0":16.9,"d0":1.82,"name":"Blattodea"},{"site":3,"kind":"t","a0":23.3,"d0":1.5,"name":"Gry...dae"},{"site":3,"kind":"t","a0":247.8,"d0":3.68,"name":"Limnophyes"},{"site":3,"kind":"t","a0":239.4,"d0":2.65,"name":"Chironomidae"},{"site":3,"kind":"t","a0":200.7,"d0":2.23,"name":"Scathophagidae"},{"site":3,"kind":"t","a0":200.6,"d0":3.23,"name":"Scathophaga"},{"site":3,"kind":"t","a0":102.8,"d0":0.77,"name":"Collembola"},{"site":3,"kind":"t","a0":105.4,"d0":1.73,"name":"Collembola_X"},{"site":3,"kind":"t","a0":101.4,"d0":2.29,"name":"Entomobryidae"},{"site":3,"kind":"t","a0":101,"d0":3.25,"name":"Entomobrya"}
]},
"data":{"name":"all"},
"layer":[
{"transform":[{"filter":"datum.site==1"}],"resolve":{"scale":{"angle":"independent"}},
"encoding":{"x":{"field":"site","type":"quantitative","axis":null,"scale":{"domain":[1,2,3],"range":[245,709,1196]}},"y":{"field":"site","type":"quantitative","axis":null,"scale":{"domain":[1,2,3],"range":[302,309,304]}},"theta":{"field":"a0","type":"quantitative","stack":null,"scale":{"domain":[0,360],"range":[0,6.283185]}},"radius":{"field":"d0","type":"quantitative","scale":{"type":"linear","domain":[-1,0,1,2,3,4,5,6],"range":[0,48,82,109,133,152,200,250]}}},
"layer":[
{"transform":[{"filter":"datum.kind=='w'"}],"mark":{"type":"arc","stroke":"#5a3c38","strokeOpacity":0.45,"strokeWidth":0.6},"encoding":{"theta2":{"field":"a1"},"radius2":{"field":"d1"},"color":{"field":"tone","type":"nominal","legend":null}}},
{"transform":[{"filter":"datum.kind=='r'&&datum.a0<180"}],"mark":{"type":"text","font":"Liberation Sans","fontSize":6.3,"fill":"#222","align":"left","baseline":"middle"},"encoding":{"text":{"field":"name"},"angle":{"field":"a0","type":"quantitative","legend":null,"scale":{"domain":[0,180],"range":[-90,90]}}}},
{"transform":[{"filter":"datum.kind=='r'&&datum.a0>=180"}],"mark":{"type":"text","font":"Liberation Sans","fontSize":6.3,"fill":"#222","align":"right","baseline":"middle"},"encoding":{"text":{"field":"name"},"angle":{"field":"a0","type":"quantitative","legend":null,"scale":{"domain":[180,360],"range":[-90,90]}}}},
{"transform":[{"filter":"datum.kind=='t'"}],"mark":{"type":"text","font":"Liberation Sans","fontSize":6.3,"fill":"#222","align":"center","baseline":"middle"},"encoding":{"text":{"field":"name"},"angle":{"field":"a0","type":"quantitative","legend":null,"scale":{"domain":[0,90,90.001,270,270.001,360],"range":[0,90,-90,90,-90,0]}}}},
{"transform":[{"filter":"datum.kind=='a'"}],"mark":{"type":"text","text":"➔","font":"DejaVu Sans","fontSize":32,"fill":"#0E72B5","align":"center","baseline":"middle"},"encoding":{"angle":{"field":"a0","type":"quantitative","legend":null,"scale":{"domain":[0,360],"range":[90,450]}}}},
{"transform":[{"filter":"datum.kind=='c'"}],"mark":{"type":"text","font":"Liberation Sans","fontSize":6.2,"fontWeight":"bold","fill":"#111","align":"center","baseline":"middle"},"encoding":{"text":{"field":"name"}}},
{"transform":[{"filter":"datum.kind=='h'"}],"mark":{"type":"text","font":"Lato","fontSize":30,"fill":"#111","align":"center","baseline":"middle"},"encoding":{"text":{"field":"name"}}}
]},
{"transform":[{"filter":"datum.site==2"}],"resolve":{"scale":{"angle":"independent"}},
"encoding":{"x":{"field":"site","type":"quantitative","axis":null,"scale":{"domain":[1,2,3],"range":[245,709,1196]}},"y":{"field":"site","type":"quantitative","axis":null,"scale":{"domain":[1,2,3],"range":[302,309,304]}},"theta":{"field":"a0","type":"quantitative","stack":null,"scale":{"domain":[0,360],"range":[0,6.283185]}},"radius":{"field":"d0","type":"quantitative","scale":{"type":"linear","domain":[-1,0,1,2,3,4,5,6],"range":[0,47,80,108,131,149,197,247]}}},
"layer":[
{"transform":[{"filter":"datum.kind=='w'"}],"mark":{"type":"arc","stroke":"#5a3c38","strokeOpacity":0.45,"strokeWidth":0.6},"encoding":{"theta2":{"field":"a1"},"radius2":{"field":"d1"},"color":{"field":"tone","type":"nominal","legend":null}}},
{"transform":[{"filter":"datum.kind=='r'&&datum.a0<180"}],"mark":{"type":"text","font":"Liberation Sans","fontSize":6.3,"fill":"#222","align":"left","baseline":"middle"},"encoding":{"text":{"field":"name"},"angle":{"field":"a0","type":"quantitative","legend":null,"scale":{"domain":[0,180],"range":[-90,90]}}}},
{"transform":[{"filter":"datum.kind=='r'&&datum.a0>=180"}],"mark":{"type":"text","font":"Liberation Sans","fontSize":6.3,"fill":"#222","align":"right","baseline":"middle"},"encoding":{"text":{"field":"name"},"angle":{"field":"a0","type":"quantitative","legend":null,"scale":{"domain":[180,360],"range":[-90,90]}}}},
{"transform":[{"filter":"datum.kind=='t'"}],"mark":{"type":"text","font":"Liberation Sans","fontSize":6.3,"fill":"#222","align":"center","baseline":"middle"},"encoding":{"text":{"field":"name"},"angle":{"field":"a0","type":"quantitative","legend":null,"scale":{"domain":[0,90,90.001,270,270.001,360],"range":[0,90,-90,90,-90,0]}}}},
{"transform":[{"filter":"datum.kind=='a'"}],"mark":{"type":"text","text":"➔","font":"DejaVu Sans","fontSize":32,"fill":"#0E72B5","align":"center","baseline":"middle"},"encoding":{"angle":{"field":"a0","type":"quantitative","legend":null,"scale":{"domain":[0,360],"range":[90,450]}}}},
{"transform":[{"filter":"datum.kind=='c'"}],"mark":{"type":"text","font":"Liberation Sans","fontSize":6.2,"fontWeight":"bold","fill":"#111","align":"center","baseline":"middle"},"encoding":{"text":{"field":"name"}}},
{"transform":[{"filter":"datum.kind=='h'"}],"mark":{"type":"text","font":"Lato","fontSize":30,"fill":"#111","align":"center","baseline":"middle"},"encoding":{"text":{"field":"name"}}}
]},
{"transform":[{"filter":"datum.site==3"}],"resolve":{"scale":{"angle":"independent"}},
"encoding":{"x":{"field":"site","type":"quantitative","axis":null,"scale":{"domain":[1,2,3],"range":[245,709,1196]}},"y":{"field":"site","type":"quantitative","axis":null,"scale":{"domain":[1,2,3],"range":[302,309,304]}},"theta":{"field":"a0","type":"quantitative","stack":null,"scale":{"domain":[0,360],"range":[0,6.283185]}},"radius":{"field":"d0","type":"quantitative","scale":{"type":"linear","domain":[-1,0,1,2,3,4,5,6],"range":[0,47,80,108,131,150,197,247]}}},
"layer":[
{"transform":[{"filter":"datum.kind=='w'"}],"mark":{"type":"arc","stroke":"#5a3c38","strokeOpacity":0.45,"strokeWidth":0.6},"encoding":{"theta2":{"field":"a1"},"radius2":{"field":"d1"},"color":{"field":"tone","type":"nominal","legend":null}}},
{"transform":[{"filter":"datum.kind=='r'&&datum.a0<180"}],"mark":{"type":"text","font":"Liberation Sans","fontSize":6.3,"fill":"#222","align":"left","baseline":"middle"},"encoding":{"text":{"field":"name"},"angle":{"field":"a0","type":"quantitative","legend":null,"scale":{"domain":[0,180],"range":[-90,90]}}}},
{"transform":[{"filter":"datum.kind=='r'&&datum.a0>=180"}],"mark":{"type":"text","font":"Liberation Sans","fontSize":6.3,"fill":"#222","align":"right","baseline":"middle"},"encoding":{"text":{"field":"name"},"angle":{"field":"a0","type":"quantitative","legend":null,"scale":{"domain":[180,360],"range":[-90,90]}}}},
{"transform":[{"filter":"datum.kind=='t'"}],"mark":{"type":"text","font":"Liberation Sans","fontSize":6.3,"fill":"#222","align":"center","baseline":"middle"},"encoding":{"text":{"field":"name"},"angle":{"field":"a0","type":"quantitative","legend":null,"scale":{"domain":[0,90,90.001,270,270.001,360],"range":[0,90,-90,90,-90,0]}}}},
{"transform":[{"filter":"datum.kind=='a'"}],"mark":{"type":"text","text":"➔","font":"DejaVu Sans","fontSize":32,"fill":"#0E72B5","align":"center","baseline":"middle"},"encoding":{"angle":{"field":"a0","type":"quantitative","legend":null,"scale":{"domain":[0,360],"range":[90,450]}}}},
{"transform":[{"filter":"datum.kind=='c'"}],"mark":{"type":"text","font":"Liberation Sans","fontSize":6.2,"fontWeight":"bold","fill":"#111","align":"center","baseline":"middle"},"encoding":{"text":{"field":"name"}}},
{"transform":[{"filter":"datum.kind=='h'"}],"mark":{"type":"text","font":"Lato","fontSize":30,"fill":"#111","align":"center","baseline":"middle"},"encoding":{"text":{"field":"name"}}}
]},
{"data":{"values":[{"leader":1,"i":1,"px":245,"py":502},{"leader":1,"i":2,"px":245,"py":537},{"leader":2,"i":1,"px":709.3,"py":506},{"leader":2,"i":2,"px":709.3,"py":535},{"leader":3,"i":1,"px":1196,"py":501.7},{"leader":3,"i":2,"px":1196,"py":542.3},{"leader":3,"i":3,"px":1237,"py":542.3},{"leader":3,"i":4,"px":1240,"py":538},{"leader":3,"i":5,"px":1437,"py":537.3},{"leader":4,"i":1,"px":1199.3,"py":501.7},{"leader":4,"i":2,"px":1199.3,"py":534.3},{"leader":4,"i":3,"px":1237,"py":532},{"leader":4,"i":4,"px":1273,"py":521},{"leader":4,"i":5,"px":1437,"py":521}]},
"mark":{"type":"line","stroke":"#c4c4c4","strokeWidth":1},"encoding":{"x":{"field":"px","type":"quantitative","axis":null,"scale":{"domain":[0,1437],"range":[0,1437]}},"y":{"field":"py","type":"quantitative","axis":null,"scale":{"domain":[0,546],"range":[0,546]}},"detail":{"field":"leader"},"order":{"field":"i"}}}
]}
